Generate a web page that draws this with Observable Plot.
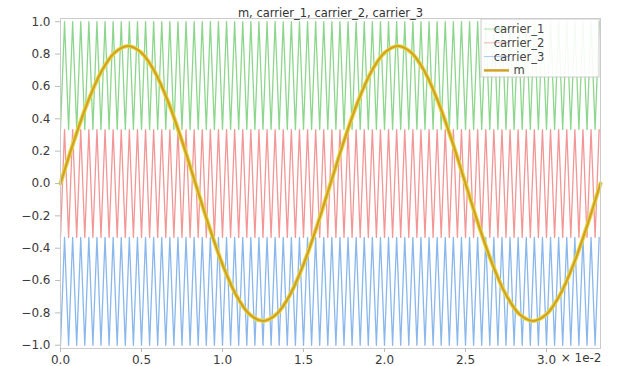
<!DOCTYPE html>
<html>
<head>
<meta charset="utf-8">
<script src="https://cdn.jsdelivr.net/npm/d3@7"></script>
<script src="https://cdn.jsdelivr.net/npm/@observablehq/plot@0.6"></script>
<style>
  body { margin: 0; background: #fff; }
  #chart svg { display: block; font-family: "DejaVu Sans", sans-serif; }
</style>
</head>
<body>
<div id="chart"></div>
<script>
// Time axis in units of 1e-2 s.
// Modulating signal m: samples over two cycles.
const mTime = [
  0, 0.0833, 0.1667, 0.25, 0.3333, 0.4167, 0.5, 0.5833, 0.6667, 0.75,
  0.8333, 0.9167, 1.0, 1.0833, 1.1667, 1.25, 1.3333, 1.4167, 1.5, 1.5833,
  1.6667, 1.75, 1.8333, 1.9167, 2.0, 2.0833, 2.1667, 2.25, 2.3333, 2.4167,
  2.5, 2.5833, 2.6667, 2.75, 2.8333, 2.9167, 3.0, 3.0833, 3.1667, 3.25, 3.3333
];
const mValue = [
  0, 0.263, 0.500, 0.688, 0.808, 0.850, 0.808, 0.688, 0.500, 0.263,
  0, -0.263, -0.500, -0.688, -0.808, -0.850, -0.808, -0.688, -0.500, -0.263,
  0, 0.263, 0.500, 0.688, 0.808, 0.850, 0.808, 0.688, 0.500, 0.263,
  0, -0.263, -0.500, -0.688, -0.808, -0.850, -0.808, -0.688, -0.500, -0.263, 0
];

// Triangular carriers: corner times (valleys and peaks, alternating, starting at a valley).
const carrierCorners = [
  0, 0.025, 0.05, 0.075, 0.1, 0.125, 0.15, 0.175, 0.2, 0.225,
  0.25, 0.275, 0.3, 0.325, 0.35, 0.375, 0.4, 0.425, 0.45, 0.475,
  0.5, 0.525, 0.55, 0.575, 0.6, 0.625, 0.65, 0.675, 0.7, 0.725,
  0.75, 0.775, 0.8, 0.825, 0.85, 0.875, 0.9, 0.925, 0.95, 0.975,
  1.0, 1.025, 1.05, 1.075, 1.1, 1.125, 1.15, 1.175, 1.2, 1.225,
  1.25, 1.275, 1.3, 1.325, 1.35, 1.375, 1.4, 1.425, 1.45, 1.475,
  1.5, 1.525, 1.55, 1.575, 1.6, 1.625, 1.65, 1.675, 1.7, 1.725,
  1.75, 1.775, 1.8, 1.825, 1.85, 1.875, 1.9, 1.925, 1.95, 1.975,
  2.0, 2.025, 2.05, 2.075, 2.1, 2.125, 2.15, 2.175, 2.2, 2.225,
  2.25, 2.275, 2.3, 2.325, 2.35, 2.375, 2.4, 2.425, 2.45, 2.475,
  2.5, 2.525, 2.55, 2.575, 2.6, 2.625, 2.65, 2.675, 2.7, 2.725,
  2.75, 2.775, 2.8, 2.825, 2.85, 2.875, 2.9, 2.925, 2.95, 2.975,
  3.0, 3.025, 3.05, 3.075, 3.1, 3.125, 3.15, 3.175, 3.2, 3.225,
  3.25, 3.275, 3.3, 3.325
];
// Carrier bands: [valley, peak]
const carrierNames = ["carrier_1", "carrier_2", "carrier_3"];
const carrierBands = [[0.3333, 1.0], [-0.3333, 0.3333], [-1.0, -0.3333]];
const carrierColors = ["#5cc45c", "#ec6a6a", "#5898e4"];
const mColor = "#d2a125";
const xTicks = [0, 0.5, 1.0, 1.5, 2.0, 2.5, 3.0];
const yTicks = [-1.0, -0.8, -0.6, -0.4, -0.2, 0.0, 0.2, 0.4, 0.6, 0.8, 1.0];

const carrierRows = carrierNames.map((name, k) =>
  carrierCorners.map((t, i) => ({name, t, v: carrierBands[k][i % 2]}))
);
const mRows = mTime.map((t, i) => ({t, v: mValue[i]}));

const plot = Plot.plot({
  width: 630,
  height: 366,
  marginLeft: 60,
  marginRight: 30,
  marginTop: 18,
  marginBottom: 18,
  style: {fontFamily: "DejaVu Sans, sans-serif", fontSize: "12px", background: "#fff"},
  x: {domain: [0, 3.3333]},
  y: {domain: [-1.02, 1.02]},
  marks: [
    ...carrierRows.map((rows, k) =>
      Plot.line(rows, {x: "t", y: "v", stroke: carrierColors[k], strokeWidth: 1.3, strokeOpacity: 0.7})
    ),
    Plot.line(mRows, {x: "t", y: "v", stroke: "#e6da46", strokeWidth: 4.2, curve: "catmull-rom"}),
    Plot.line(mRows, {x: "t", y: "v", stroke: mColor, strokeWidth: 2.2, curve: "catmull-rom"}),
    Plot.frame({stroke: "#cccccc"}),
    Plot.axisY(yTicks, {tickSize: 5, tickPadding: 5, stroke: "#bbbbbb", fill: "#3a3a3a", tickFormat: d3.format(".1f"), label: null, fontSize: 12}),
    Plot.axisX(xTicks, {tickSize: 4, tickPadding: 3, stroke: "#bbbbbb", fill: "#3a3a3a", tickFormat: d3.format(".1f"), label: null, fontSize: 12}),
    Plot.text(["× 1e-2"], {frameAnchor: "bottom-right", dy: 13, dx: 1, textAnchor: "end", fill: "#3a3a3a", fontSize: 12}),
    Plot.text(["m, carrier_1, carrier_2, carrier_3"], {frameAnchor: "top", dy: -10, fill: "#333", fontSize: 11.5})
  ]
});
document.getElementById("chart").appendChild(plot);

// Legend box in the upper-right corner of the frame
const svg = d3.select(plot);
const legend = svg.append("g").attr("font-family", "DejaVu Sans, sans-serif").attr("font-size", 11.5);
legend.append("rect")
  .attr("x", 481).attr("y", 19).attr("width", 118).attr("height", 58)
  .attr("fill", "#fff").attr("fill-opacity", 0.9).attr("stroke", "#cccccc");
const entries = carrierNames.map((n, k) => ({name: n, color: carrierColors[k], w: 1}))
  .concat([{name: "m", color: mColor, w: 2.5}]);
entries.forEach((e, i) => {
  const y = 29 + i * 13.8;
  legend.append("line").attr("x1", 484).attr("x2", 509).attr("y1", y).attr("y2", y)
    .attr("stroke", e.color).attr("stroke-width", e.w).attr("stroke-opacity", e.w > 1 ? 1 : 0.5);
  legend.append("text").attr("x", 519).attr("y", y).attr("dy", "0.35em")
    .attr("fill", "#444").text(e.name);
});
</script>
</body>
</html>
